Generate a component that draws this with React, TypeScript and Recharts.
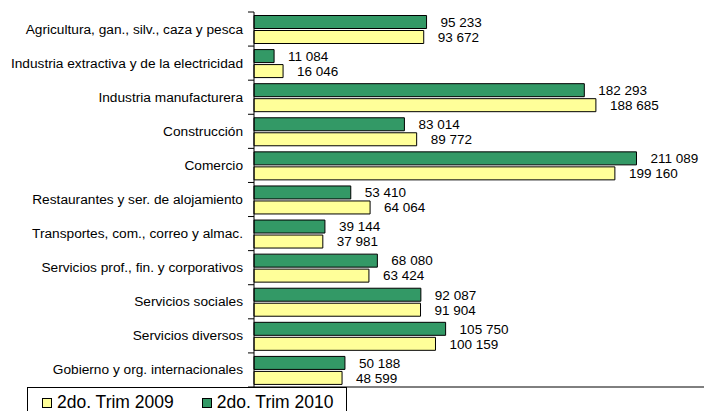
import React from "react";
import { BarChart, Bar, XAxis, YAxis, LabelList } from "recharts";

const categories = [
  "Agricultura, gan., silv., caza y pesca",
  "Industria extractiva y de la electricidad",
  "Industria manufacturera",
  "Construcción",
  "Comercio",
  "Restaurantes y ser. de alojamiento",
  "Transportes, com., correo y almac.",
  "Servicios prof., fin. y corporativos",
  "Servicios sociales",
  "Servicios diversos",
  "Gobierno y org. internacionales",
];

const trim2009 = [93672, 16046, 188685, 89772, 199160, 64064, 37981, 63424, 91904, 100159, 48599];
const trim2010 = [95233, 11084, 182293, 83014, 211089, 53410, 39144, 68080, 92087, 105750, 50188];

const xTicks = [0, 50000, 100000, 150000, 200000, 250000];

const GREEN = "#339966";
const YELLOW = "#ffff99";
const FONT = "'Liberation Sans', Arial, sans-serif";

const data = categories.map((name, i) => ({ name, y2009: trim2009[i], y2010: trim2010[i] }));

const fmt = (v: unknown) => String(v).replace(/\B(?=(\d{3})+(?!\d))/g, " ");

const TOP = 12;
const BOTTOM = 387;
const band = (BOTTOM - TOP) / categories.length;

function CategoryTick(props: any) {
  const { x, y, payload, index } = props;
  const last = index === categories.length - 1;
  return (
    <g>
      <text x={x - 11} y={y} dy={4.5} textAnchor="end" fontSize={13.7} fill="#000" fontFamily={FONT}>
        {payload.value}
      </text>
      <line x1={x - 6} x2={x} y1={y - band / 2} y2={y - band / 2} stroke="#000" />
      {last && <line x1={x - 6} x2={x} y1={y + band / 2} y2={y + band / 2} stroke="#000" />}
    </g>
  );
}

export default function App() {
  return (
    <div style={{ position: "absolute", left: 0, top: 0, width: 704, height: 411, overflow: "hidden", background: "#fff" }}>
      <BarChart
        width={712}
        height={411}
        data={data}
        layout="vertical"
        margin={{ top: TOP, right: 5, bottom: 0, left: 0 }}
        barCategoryGap={3.5}
        barGap={2}
      >
        <XAxis
          type="number"
          domain={[0, 250000]}
          ticks={xTicks}
          height={24}
          tick={false}
          tickSize={5}
          axisLine={{ stroke: "#000" }}
          tickLine={{ stroke: "#000" }}
        />
        <YAxis
          type="category"
          dataKey="name"
          width={254}
          tickSize={0}
          tickMargin={0}
          tickLine={false}
          axisLine={{ stroke: "#000" }}
          tick={<CategoryTick />}
          interval={0}
        />
        <Bar dataKey="y2010" fill={GREEN} stroke="#000" strokeWidth={1} isAnimationActive={false}>
          <LabelList dataKey="y2010" position="right" offset={14} formatter={fmt} fontSize={13.5} fill="#000" fontFamily={FONT} />
        </Bar>
        <Bar dataKey="y2009" fill={YELLOW} stroke="#000" strokeWidth={1} isAnimationActive={false}>
          <LabelList dataKey="y2009" position="right" offset={14} formatter={fmt} fontSize={13.5} fill="#000" fontFamily={FONT} />
        </Bar>
      </BarChart>
      <div
        style={{
          position: "absolute",
          left: 27,
          top: 387,
          width: 320,
          height: 32,
          border: "1px solid #000",
          boxSizing: "border-box",
          background: "#fff",
          fontFamily: FONT,
          fontSize: 17.5,
          display: "flex",
          alignItems: "flex-start",
          paddingTop: 4,
          paddingLeft: 14,
        }}
      >
        {[
          { label: "2do. Trim 2009", color: YELLOW },
          { label: "2do. Trim 2010", color: GREEN },
        ].map((it, i) => (
          <div key={it.label} style={{ display: "flex", alignItems: "center", marginLeft: i ? 28 : 0 }}>
            <span style={{ width: 10, height: 10, background: it.color, border: "1px solid #000", boxSizing: "border-box", marginRight: 5 }} />
            <span>{it.label}</span>
          </div>
        ))}
      </div>
    </div>
  );
}
